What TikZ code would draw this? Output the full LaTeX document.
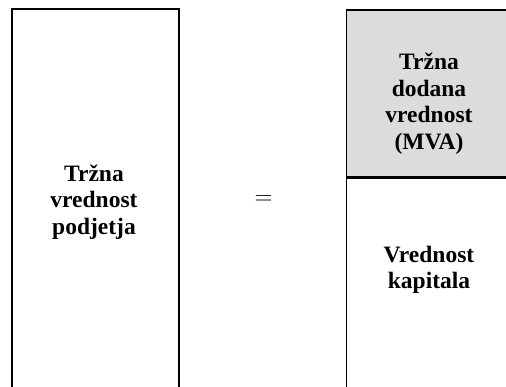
\documentclass[tikz,border=0pt]{standalone}
\usepackage{fontspec}
\setmainfont{Liberation Serif}
\definecolor{boxgray}{RGB}{220,220,220}
\begin{document}
\begin{tikzpicture}[x=1pt,y=-1pt,
  boxline/.style={draw=black,line width=1.6pt},
  label/.style={font=\fontsize{23.5}{26.5}\selectfont\bfseries,align=center,inner sep=0pt}]
\useasboundingbox (0,0) rectangle (506,387);
\clip (0,0) rectangle (506,387);
% left box (bottom edge off the page)
\node[boxline,fill=white,minimum width=167pt,minimum height=392pt,inner sep=0pt,anchor=north west] (leftbox) at (11,8.5) {};
% right box: upper gray part and lower white part (right edge off the page)
\node[boxline,fill=boxgray,minimum width=175pt,minimum height=167pt,inner sep=0pt,anchor=north west] (mvabox) at (345.5,9) {};
\node[boxline,fill=white,minimum width=175pt,minimum height=220pt,inner sep=0pt,anchor=north west] (capbox) at (mvabox.south west) {};
% texts
\node[label] (lefttext) at (94,202) {Tržna\\vrednost\\podjetja};
\node[label] (mvatext) at (429,103.5) {Tržna\\dodana\\vrednost\\(MVA)};
\node[label] (captext) at (429,270) {Vrednost\\kapitala};
\node[inner sep=0pt,font=\fontsize{25}{28}\selectfont] (eq) at (263.5,200.5) {$=$};
\end{tikzpicture}
\end{document}
